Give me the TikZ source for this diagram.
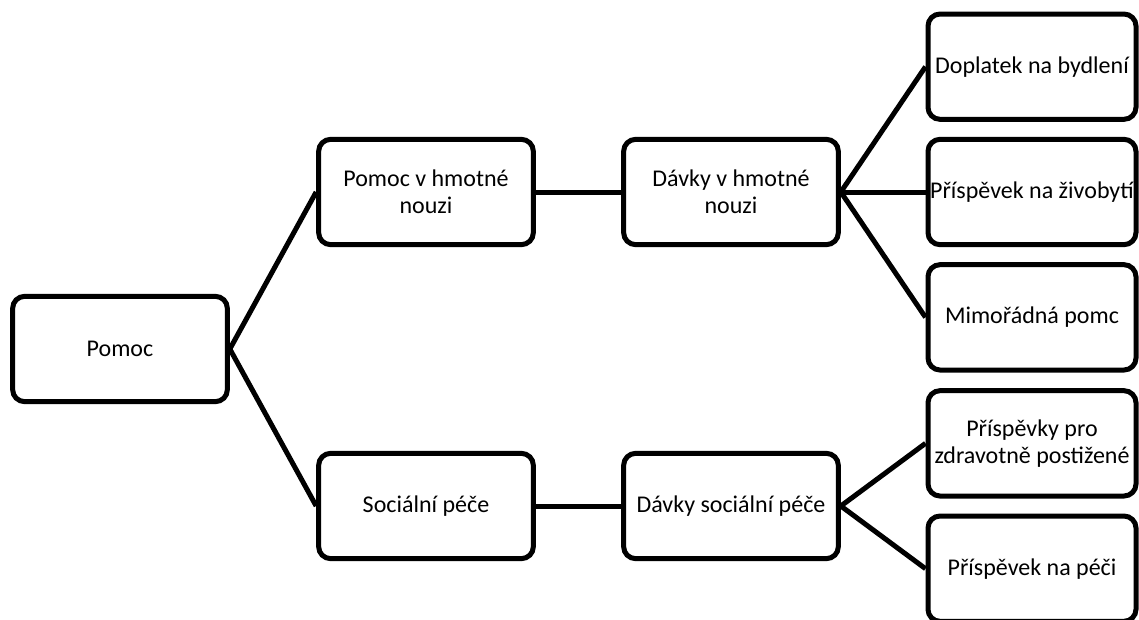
\documentclass[tikz,border=0pt]{standalone}
\usepackage{fontspec}
\setmainfont{Carlito}
\begin{document}
\begin{tikzpicture}
\tikzstyle{every node}=[draw,line width=3.75pt,rounded corners=9pt,minimum width=161pt,minimum height=79pt,inner sep=1pt,align=center,font=\fontsize{18pt}{20.5pt}\selectfont]
\tikzstyle{edge from parent}=[draw,line width=3.75pt]
\tikzstyle{level 1}=[sibling distance=235.5pt,level distance=229.5pt]
\tikzstyle{level 2}=[level distance=228.75pt]
\tikzstyle{level 3}=[sibling distance=94pt,level distance=225.75pt,nodes={minimum width=156pt}]
\useasboundingbox (0,0) rectangle (854.25pt,-464.25pt);
\node (pomoc) at (90pt,-261.75pt) {Pomoc}
[grow'=right,edge from parent path={(\tikzparentnode.east) -- (\tikzchildnode.west)}]
child {node (hmotna) {Pomoc v hmotné\\nouzi}
  child {node (davky hmotna) {Dávky v hmotné\\nouzi}
    child {node (doplatek) {Doplatek na bydlení}}
    child {node (zivobyti) {Příspěvek na živobytí}}
    child {node (mimoradna) {Mimořádná pomc}}
  }
}
child {node (socialni) {Sociální péče}
  child {node (davky socialni) {Dávky sociální péče}
    child {node (zdravotne) {Příspěvky pro\\zdravotně postižené}}
    child {node (pece) {Příspěvek na péči}}
  }
};
\end{tikzpicture}
\end{document}
